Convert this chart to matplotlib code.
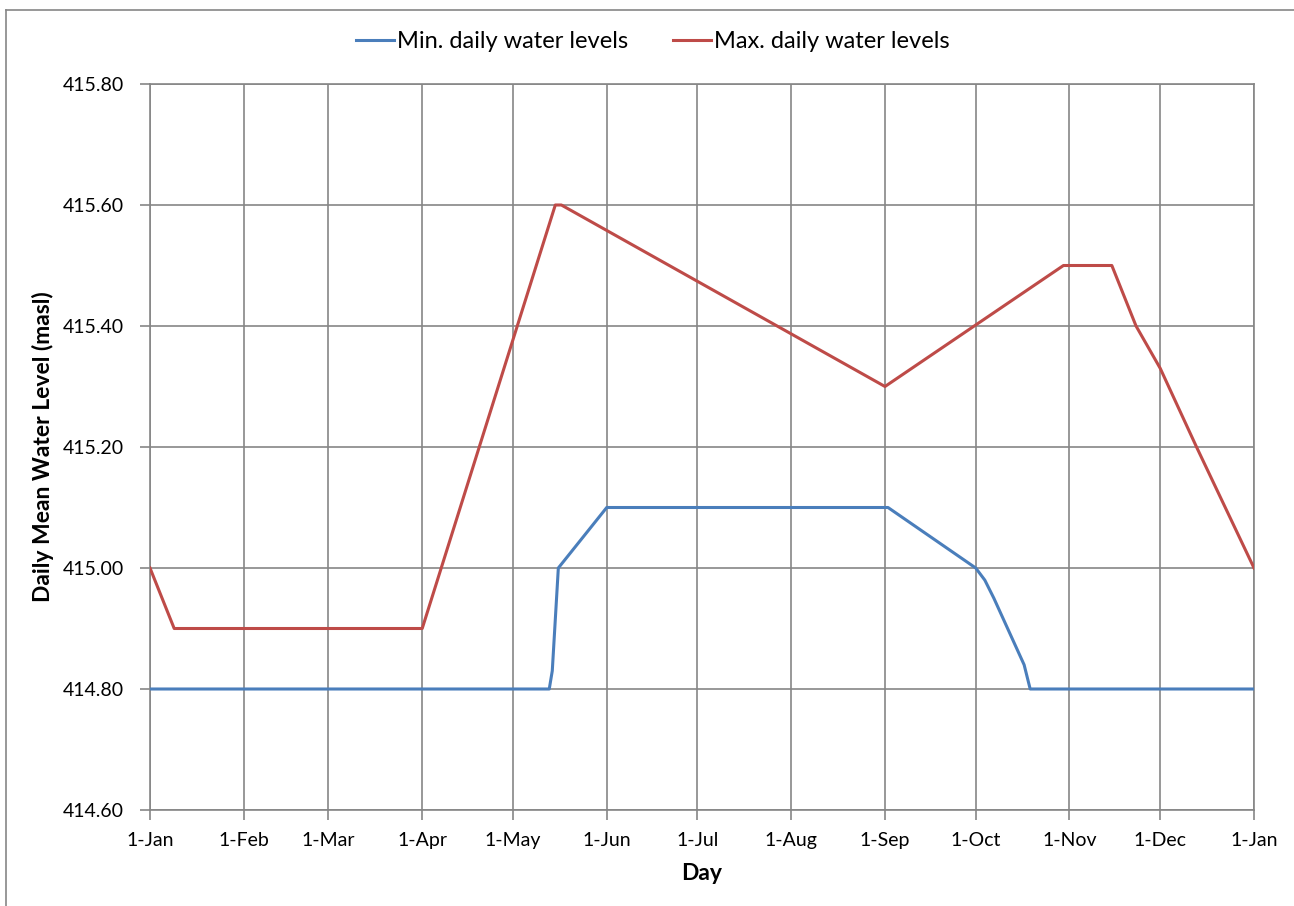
import matplotlib
matplotlib.use("Agg")
import matplotlib.pyplot as plt
from matplotlib.lines import Line2D

plt.rcParams['font.family'] = ['Lato', 'DejaVu Sans']

# ---- data ----
tick_days = [0, 31, 59, 90, 120, 151, 181, 212, 243, 273, 304, 334, 365]
tick_labels = ['1-Jan', '1-Feb', '1-Mar', '1-Apr', '1-May', '1-Jun', '1-Jul',
               '1-Aug', '1-Sep', '1-Oct', '1-Nov', '1-Dec', '1-Jan']
y_ticks = [414.60, 414.80, 415.00, 415.20, 415.40, 415.60, 415.80]

min_days = [0, 132, 133, 135, 151, 244, 273, 276, 279, 289, 291, 365]
min_vals = [414.80, 414.80, 414.83, 415.00, 415.10, 415.10, 415.00, 414.98,
            414.95, 414.84, 414.80, 414.80]

max_days = [0, 8, 90, 134, 136, 243, 302, 318, 326, 334, 346, 365]
max_vals = [415.00, 414.90, 414.90, 415.60, 415.60, 415.30, 415.50, 415.50,
            415.40, 415.33, 415.20, 415.00]

# ---- figure ----
W, H = 1294, 906
fig = plt.figure(figsize=(W / 100, H / 100), dpi=100)
ax = fig.add_axes([150 / W, 1 - 810 / H, (1254 - 150) / W, (810 - 84) / H])

grid_c = '#868686'
blue = '#4A7EBB'
red = '#BE4B48'

ax.plot(min_days, min_vals, color=blue, lw=2.2, label='Min. daily water levels',
        solid_joinstyle='round', zorder=3)
ax.plot(max_days, max_vals, color=red, lw=2.2, label='Max. daily water levels',
        solid_joinstyle='round', zorder=3)

ax.set_xlim(0, 365)
ax.set_ylim(414.60, 415.80)
ax.set_xticks(tick_days)
ax.set_xticklabels(tick_labels)
ax.set_yticks(y_ticks)
ax.set_yticklabels([f'{v:.2f}' for v in y_ticks])

ax.grid(True, color=grid_c, lw=1.2)
ax.set_axisbelow(True)
for s in ax.spines.values():
    s.set_color(grid_c)
    s.set_linewidth(1.2)

ax.tick_params(axis='both', colors=grid_c, labelcolor='black', labelsize=14,
               length=7, width=1.2)
ax.tick_params(axis='x', pad=9)
ax.tick_params(axis='y', pad=12)

ax.set_xlabel('Day', fontsize=16.5, fontweight='bold', labelpad=10)
ax.set_ylabel('Daily Mean Water Level (masl)', fontsize=16.5, fontweight='bold',
              labelpad=6)

fig.legend(loc='center', bbox_to_anchor=(653 / W, 1 - 42 / H), ncol=2,
           frameon=False, fontsize=17, handlelength=1.6, handletextpad=0.15,
           columnspacing=1.9)

# outer chart border (top and left visible)
fig.add_artist(Line2D([6 / W, 1.0], [1 - 10 / H, 1 - 10 / H],
                      transform=fig.transFigure, color=grid_c, lw=1.2))
fig.add_artist(Line2D([6 / W, 6 / W], [0.0, 1 - 10 / H],
                      transform=fig.transFigure, color=grid_c, lw=1.2))

fig.savefig('out.png', dpi=100)
